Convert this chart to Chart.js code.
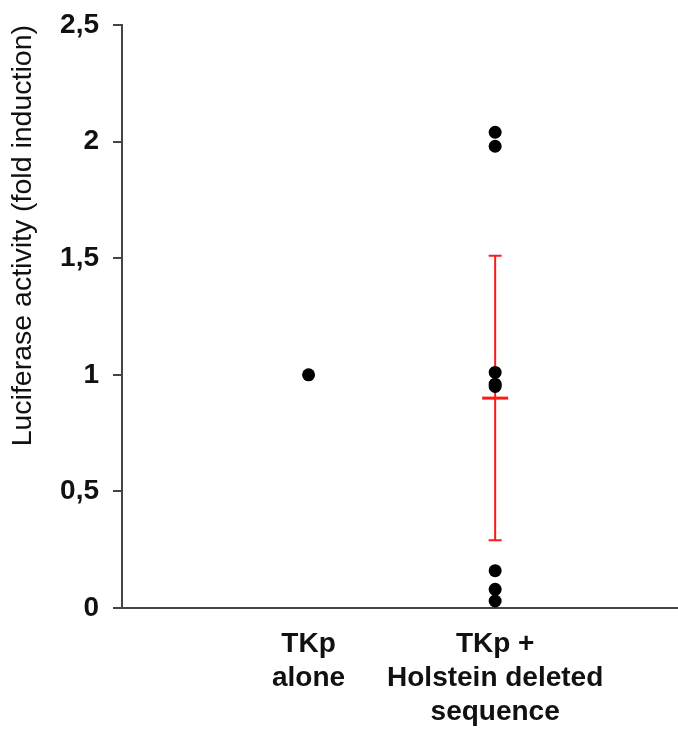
<!DOCTYPE html>
<html lang="en">
<head>
    <meta charset="UTF-8">
    <title>Luciferase activity</title>
    <script src="https://cdn.jsdelivr.net/npm/chart.js"></script>
    <style>
        html, body {
            margin: 0;
            padding: 0;
            background: #ffffff;
            overflow: hidden;
        }
        #wrap {
            width: 678px;
            height: 730px;
        }
    </style>
</head>
<body>
    <div id="wrap"><canvas id="lucChart"></canvas></div>

    <script>
        // Categories (x positions 1 and 2) and their labels
        const categoryPositions = [1, 2];
        const categoryLabels = [
            ['TKp', 'alone'],
            ['TKp +', 'Holstein deleted', 'sequence']
        ];

        // Individual measurements (fold induction)
        const tkpAlone = [1.0];
        const tkpHolstein = [2.04, 1.98, 1.01, 0.96, 0.95, 0.16, 0.08, 0.03];

        // Mean and SD for the Holstein group
        const holsteinMean = 0.90;
        const holsteinSD = 0.61;

        // Y ticks
        const yTicks = [0, 0.5, 1, 1.5, 2, 2.5];

        const pointsFor = (pos, values) => values.map(v => ({ x: pos, y: v }));

        // Draws mean line + SD whiskers for the second group
        const errorBarPlugin = {
            id: 'errorBars',
            beforeDatasetsDraw(chart) {
                const { ctx, scales } = chart;
                const x = scales.x.getPixelForValue(categoryPositions[1]);
                const yMean = scales.y.getPixelForValue(holsteinMean);
                const yTop = scales.y.getPixelForValue(holsteinMean + holsteinSD);
                const yBot = scales.y.getPixelForValue(holsteinMean - holsteinSD);
                ctx.save();
                ctx.strokeStyle = '#ff1a1a';
                ctx.lineWidth = 2;
                ctx.beginPath();
                ctx.moveTo(x, yTop);
                ctx.lineTo(x, yBot);
                ctx.moveTo(x - 6.5, yTop);
                ctx.lineTo(x + 6.5, yTop);
                ctx.moveTo(x - 6.5, yBot);
                ctx.lineTo(x + 6.5, yBot);
                ctx.stroke();
                ctx.lineWidth = 3;
                ctx.beginPath();
                ctx.moveTo(x - 13, yMean);
                ctx.lineTo(x + 13, yMean);
                ctx.stroke();
                ctx.restore();
            }
        };

        const ctx = document.getElementById('lucChart').getContext('2d');
        const lucChart = new Chart(ctx, {
            type: 'scatter',
            data: {
                datasets: [
                    {
                        label: 'TKp alone',
                        data: pointsFor(categoryPositions[0], tkpAlone),
                        backgroundColor: '#000000',
                        borderWidth: 0,
                        pointRadius: 6.5
                    },
                    {
                        label: 'TKp + Holstein deleted sequence',
                        data: pointsFor(categoryPositions[1], tkpHolstein),
                        backgroundColor: '#000000',
                        borderWidth: 0,
                        pointRadius: 6.5
                    }
                ]
            },
            options: {
                responsive: true,
                maintainAspectRatio: false,
                animation: false,
                layout: {
                    autoPadding: false,
                    padding: { top: 25, right: 0, bottom: 3, left: 0 }
                },
                plugins: {
                    legend: { display: false },
                    tooltip: { enabled: false }
                },
                scales: {
                    x: {
                        type: 'linear',
                        min: 0,
                        max: 2.98,
                        afterBuildTicks: axis => {
                            axis.ticks = categoryPositions.map(v => ({ value: v }));
                        },
                        afterFit: axis => {
                            axis.height = 119;
                        },
                        ticks: {
                            autoSkip: false,
                            maxRotation: 0,
                            padding: 19,
                            color: '#111111',
                            font: { family: 'Liberation Sans', size: 28, weight: 'bold', lineHeight: 1.22 },
                            callback: value => categoryLabels[categoryPositions.indexOf(value)] || ''
                        },
                        grid: { display: false, drawTicks: false },
                        border: { display: true, color: '#444444', width: 2 }
                    },
                    y: {
                        min: 0,
                        max: 2.5,
                        afterBuildTicks: axis => {
                            axis.ticks = yTicks.map(v => ({ value: v }));
                        },
                        afterFit: axis => {
                            axis.width = 122;
                            axis.paddingTop = 0;
                            axis.paddingBottom = 0;
                        },
                        ticks: {
                            padding: 14,
                            color: '#111111',
                            font: { family: 'Liberation Sans', size: 28, weight: 'bold' },
                            callback: value => String(value).replace('.', ',')
                        },
                        grid: {
                            drawOnChartArea: false,
                            drawTicks: true,
                            tickLength: 9,
                            color: '#444444',
                            lineWidth: 2
                        },
                        border: { display: true, color: '#444444', width: 2 },
                        title: {
                            display: true,
                            align: 'end',
                            text: 'Luciferase activity (fold induction)',
                            color: '#111111',
                            font: { family: 'Liberation Sans', size: 28.5, weight: 'normal' },
                            padding: { top: 6, bottom: 0 }
                        }
                    }
                }
            },
            plugins: [errorBarPlugin]
        });
    </script>
</body>
</html>
